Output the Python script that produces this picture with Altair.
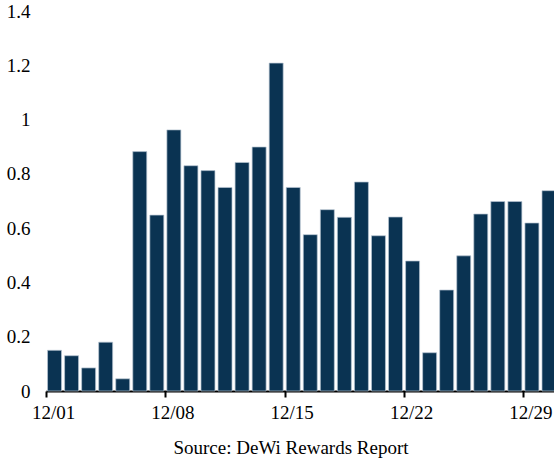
import altair as alt
import pandas as pd

# Daily rewards, December
days = [f"12/{d:02d}" for d in range(1, 31)]
rewards = [0.15, 0.13, 0.085, 0.18, 0.045, 0.882, 0.648, 0.962, 0.83, 0.812,
           0.75, 0.842, 0.899, 1.208, 0.75, 0.576, 0.668, 0.64, 0.77, 0.572,
           0.641, 0.479, 0.141, 0.372, 0.498, 0.652, 0.698, 0.698, 0.619, 0.738]
tick_days = ["12/01", "12/08", "12/15", "12/22", "12/29"]
y_ticks = [0, 0.2, 0.4, 0.6, 0.8, 1.0, 1.2, 1.4]

df = pd.DataFrame({"day": days, "value": rewards})

FONT = "Liberation Serif"

chart = (
    alt.Chart(df)
    .mark_bar(color="#0a3352", stroke="#b8c6d3", strokeWidth=0.7)
    .encode(
        x=alt.X(
            "day:O",
            sort=days,
            scale=alt.Scale(range=[0, 511.5], paddingInner=0.18, paddingOuter=0.09),
            axis=alt.Axis(
                title=None,
                values=tick_days,
                labelAngle=0,
                bandPosition=0,
                tickOffset=-1.5,
                tickSize=6,
                tickWidth=2,
                tickColor="black",
                domainColor="black",
                domainWidth=2,
                labelPadding=6,
                labelFont=FONT,
                labelFontSize=19,
                labelColor="black",
            ),
        ),
        y=alt.Y(
            "value:Q",
            scale=alt.Scale(domain=[0, 1.4], nice=False),
            axis=alt.Axis(
                title=None,
                values=y_ticks,
                format="~g",
                ticks=False,
                tickSize=0,
                domain=False,
                grid=False,
                labelPadding=16,
                labelFont=FONT,
                labelFontSize=19,
                labelColor="black",
            ),
        ),
    )
    .properties(
        width=508,
        height=380,
        autosize="none",
        padding={"left": 46, "top": 11, "right": 0, "bottom": 71},
        title=alt.TitleParams(
            "Source: DeWi Rewards Report",
            orient="bottom",
            anchor="middle",
            dx=-9,
            offset=17,
            font=FONT,
            fontSize=19,
            fontWeight="normal",
            color="black",
        ),
    )
    .configure_view(stroke=None)
)

chart.save("out.html", embed_options={"renderer": "svg", "actions": False})
